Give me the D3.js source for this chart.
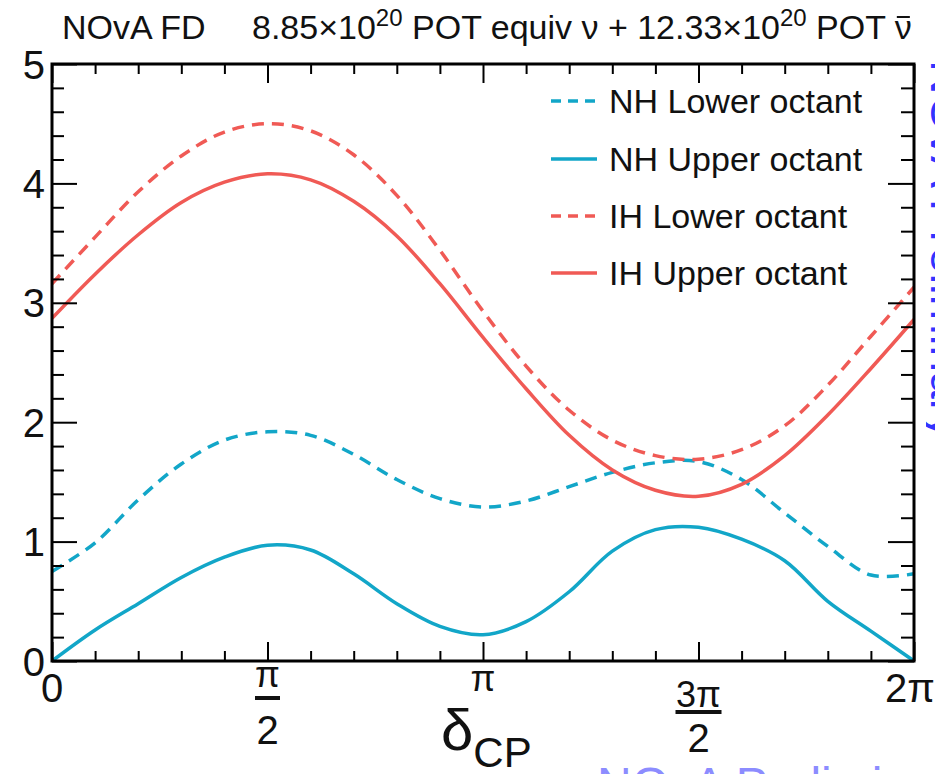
<!DOCTYPE html>
<html>
<head>
<meta charset="utf-8">
<script src="https://cdn.jsdelivr.net/npm/d3@7"></script>
<style>
  html, body { margin: 0; padding: 0; background: #fff; }
  svg { display: block; font-family: "Liberation Sans", Arial, Helvetica, sans-serif; }
</style>
</head>
<body>
<svg id="chart" width="949" height="774"></svg>
<script>
// ---- data (x in units of pi) ----
const deltaCP = [0, 0.1, 0.2, 0.3, 0.4, 0.5, 0.6, 0.7, 0.8, 0.9, 1.0, 1.1, 1.2, 1.3, 1.4, 1.5, 1.6, 1.7, 1.8, 1.9, 2.0];
const nhLower = [0.75, 0.99, 1.35, 1.65, 1.85, 1.92, 1.89, 1.73, 1.52, 1.36, 1.29, 1.34, 1.46, 1.58, 1.66, 1.67, 1.52, 1.24, 0.96, 0.72, 0.73];
const nhUpper = [0, 0.26, 0.48, 0.70, 0.87, 0.97, 0.93, 0.73, 0.48, 0.29, 0.22, 0.33, 0.58, 0.92, 1.10, 1.12, 1.02, 0.84, 0.50, 0.25, 0];
const ihLower = [3.16, 3.55, 3.93, 4.23, 4.43, 4.50, 4.44, 4.24, 3.90, 3.44, 2.93, 2.47, 2.10, 1.85, 1.72, 1.69, 1.77, 1.97, 2.31, 2.72, 3.13];
const ihUpper = [2.87, 3.24, 3.57, 3.84, 4.01, 4.08, 4.03, 3.85, 3.56, 3.16, 2.71, 2.28, 1.89, 1.60, 1.43, 1.38, 1.48, 1.72, 2.06, 2.45, 2.86];
const seriesNames = ["NH Lower octant", "NH Upper octant", "IH Lower octant", "IH Upper octant"];
const yTickLabels = ["0", "1", "2", "3", "4", "5"];
const xMajorTicks = [0, 0.5, 1, 1.5, 2];

const svg = d3.select("#chart");
const L = 52, R = 914, T = 64, B = 661;
const x = d3.scaleLinear().domain([0, 2]).range([L, R]);
const y = d3.scaleLinear().domain([0, 5]).range([B, T]);

const cyan = "#12a6c8", red = "#f05a55";
const series = [
  { name: seriesNames[0], vals: nhLower, color: cyan, dash: "12,8" },
  { name: seriesNames[1], vals: nhUpper, color: cyan, dash: null },
  { name: seriesNames[2], vals: ihLower, color: red, dash: "12,8" },
  { name: seriesNames[3], vals: ihUpper, color: red, dash: null }
];

// clip
svg.append("clipPath").attr("id", "plotclip").append("rect")
  .attr("x", L).attr("y", T).attr("width", R - L).attr("height", B - T);

// curves
const line = d3.line().x((d, i) => x(deltaCP[i])).y(d => y(d)).curve(d3.curveCatmullRom.alpha(0.5));
const g = svg.append("g").attr("clip-path", "url(#plotclip)");
series.forEach(s => {
  g.append("path").datum(s.vals).attr("d", line)
    .attr("fill", "none").attr("stroke", s.color).attr("stroke-width", 3.5)
    .attr("stroke-dasharray", s.dash);
});

// axes (ticks inside, ROOT style)
const xMinor = d3.range(0, 2.0001, 0.1).filter(v => Math.abs(v * 2 - Math.round(v * 2)) > 1e-6);
const yMajor = d3.range(0, 5.0001, 1);
const yMinor = d3.range(0, 5.0001, 0.2).filter(v => Math.abs(v - Math.round(v)) > 1e-6);

function styleAxis(sel) {
  sel.select(".domain").remove();
  sel.selectAll("line").attr("stroke", "#000").attr("stroke-width", 2);
  sel.selectAll("text").remove();
}
svg.append("g").attr("transform", `translate(0,${B})`).call(d3.axisBottom(x).tickValues(xMajorTicks).tickSize(-19)).call(styleAxis);
svg.append("g").attr("transform", `translate(0,${B})`).call(d3.axisBottom(x).tickValues(xMinor).tickSize(-10)).call(styleAxis);
svg.append("g").attr("transform", `translate(0,${T})`).call(d3.axisTop(x).tickValues(xMajorTicks).tickSize(-19)).call(styleAxis);
svg.append("g").attr("transform", `translate(0,${T})`).call(d3.axisTop(x).tickValues(xMinor).tickSize(-10)).call(styleAxis);
svg.append("g").attr("transform", `translate(${L},0)`).call(d3.axisLeft(y).tickValues(yMajor).tickSize(-25)).call(styleAxis);
svg.append("g").attr("transform", `translate(${L},0)`).call(d3.axisLeft(y).tickValues(yMinor).tickSize(-12)).call(styleAxis);
svg.append("g").attr("transform", `translate(${R},0)`).call(d3.axisRight(y).tickValues(yMajor).tickSize(-26)).call(styleAxis);
svg.append("g").attr("transform", `translate(${R},0)`).call(d3.axisRight(y).tickValues(yMinor).tickSize(-13)).call(styleAxis);

// frame
svg.append("rect").attr("x", L).attr("y", T).attr("width", R - L).attr("height", B - T)
  .attr("fill", "none").attr("stroke", "#000").attr("stroke-width", 3);

// y tick labels
yMajor.forEach((v, i) => {
  svg.append("text").attr("x", 45).attr("y", y(v) + 14.5)
    .attr("text-anchor", "end").attr("font-size", 40).attr("fill", "#111").text(yTickLabels[i]);
});

// x tick labels
svg.append("text").attr("x", x(0)).attr("y", 702).attr("text-anchor", "middle").attr("font-size", 40).attr("fill", "#111").text("0");
svg.append("text").attr("x", x(1)).attr("y", 691).attr("text-anchor", "middle").attr("font-size", 36).attr("fill", "#111").text("π");
svg.append("text").attr("x", x(2) - 4).attr("y", 702).attr("text-anchor", "middle").attr("font-size", 40).attr("fill", "#111").text("2π");
// fractions
function frac(xc, num, numBase, barY, barW, denBase) {
  svg.append("text").attr("x", xc).attr("y", numBase).attr("text-anchor", "middle").attr("font-size", 36).attr("fill", "#111").text(num);
  svg.append("rect").attr("x", xc - barW / 2).attr("y", barY).attr("width", barW).attr("height", 4).attr("fill", "#111");
  svg.append("text").attr("x", xc).attr("y", denBase).attr("text-anchor", "middle").attr("font-size", 40).attr("fill", "#111").text("2");
}
frac(x(0.5), "π", 687, 696, 25, 744);
frac(x(1.5), "3π", 707, 710, 46, 752);

// axis title
const at = svg.append("text").attr("x", 441).attr("y", 750).attr("fill", "#111");
at.append("tspan").attr("font-size", 58).text("δ");
at.append("tspan").attr("font-size", 42).attr("dy", 17).text("CP");

// title
svg.append("text").attr("x", 62).attr("y", 39).attr("font-size", 34).attr("fill", "#111").text("NOvA FD");
const tt = svg.append("text").attr("x", 252).attr("y", 39).attr("font-size", 34).attr("fill", "#111");
tt.append("tspan").text("8.85×10");
tt.append("tspan").attr("font-size", 24).attr("dy", -13).text("20");
tt.append("tspan").attr("dy", 13).text(" POT equiv ν + 12.33×10");
tt.append("tspan").attr("font-size", 24).attr("dy", -13).text("20");
tt.append("tspan").attr("dy", 13).text(" POT ν");
// macron over the final nu
{
  const node = tt.node();
  const n = node.getNumberOfChars();
  const ext = node.getExtentOfChar(n - 1);
  svg.append("rect").attr("x", ext.x + 2).attr("y", 16).attr("width", ext.width - 4).attr("height", 2).attr("fill", "#111");
}

// legend
const legRows = [101, 159, 216, 273];
series.forEach((s, i) => {
  svg.append("line").attr("x1", 551).attr("x2", 597).attr("y1", legRows[i]).attr("y2", legRows[i])
    .attr("stroke", s.color).attr("stroke-width", 3.5).attr("stroke-dasharray", s.dash ? "10,7" : null);
  svg.append("text").attr("x", 609).attr("y", legRows[i] + 12).attr("font-size", 34).attr("fill", "#111").text(s.name);
});

// partially visible watermark labels
svg.append("clipPath").attr("id", "rclip").append("rect").attr("x", 926).attr("y", 0).attr("width", 9).attr("height", 774);
svg.append("g").attr("clip-path", "url(#rclip)")
  .append("text")
  .attr("transform", "translate(931,60) rotate(90)")
  .attr("font-size", 48).attr("fill", "#3333ff").text("NOvA Preliminary");
svg.append("text").attr("x", 597).attr("y", 801).attr("font-size", 48)
  .attr("fill", "#7070ff").attr("opacity", 0.8).text("NOvA Preliminary");
</script>
</body>
</html>
